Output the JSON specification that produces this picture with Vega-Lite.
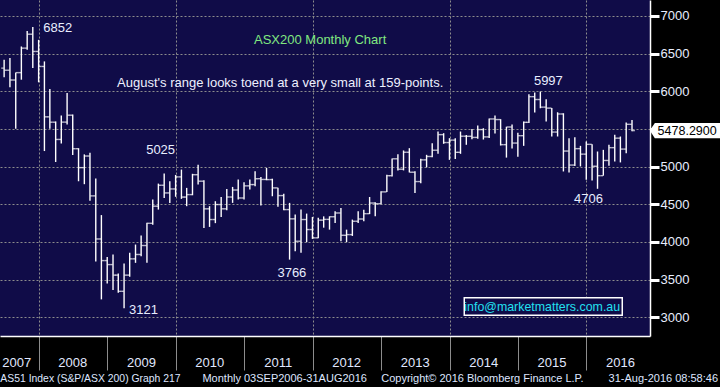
{
"$schema": "https://vega.github.io/schema/vega-lite/v6.json",
"width": 650, "height": 336,
"autosize": {"type": "none"},
"padding": {"left": 0, "top": 0, "right": 70, "bottom": 51},
"background": "#000000",
"config": {"view": {"fill": "#100c48", "stroke": null}, "font": "Liberation Sans", "text": {"font": "Liberation Sans"}},
"data": {"values": [
{"date":"2007-06-30","open":6308,"high":6419,"low":6185,"close":6280},
{"date":"2007-07-31","open":6280,"high":6441,"low":6053,"close":6150},
{"date":"2007-08-31","open":6150,"high":6251,"low":5502,"close":6248},
{"date":"2007-09-30","open":6248,"high":6595,"low":6154,"close":6573},
{"date":"2007-10-31","open":6573,"high":6802,"low":6551,"close":6758},
{"date":"2007-11-30","open":6758,"high":6852,"low":6308,"close":6529},
{"date":"2007-12-31","open":6529,"high":6683,"low":6119,"close":6330},
{"date":"2008-01-31","open":6330,"high":6397,"low":5207,"close":5661},
{"date":"2008-02-29","open":5661,"high":6031,"low":5502,"close":5590},
{"date":"2008-03-31","open":5590,"high":5600,"low":5062,"close":5361},
{"date":"2008-04-30","open":5361,"high":5679,"low":5308,"close":5591},
{"date":"2008-05-31","open":5591,"high":5978,"low":5560,"close":5683},
{"date":"2008-06-30","open":5683,"high":5692,"low":5154,"close":5238},
{"date":"2008-07-31","open":5238,"high":5245,"low":4806,"close":4987},
{"date":"2008-08-31","open":4987,"high":5163,"low":4767,"close":5141},
{"date":"2008-09-30","open":5141,"high":5185,"low":4546,"close":4612},
{"date":"2008-10-31","open":4612,"high":4842,"low":3740,"close":4040},
{"date":"2008-11-30","open":4040,"high":4357,"low":3238,"close":3753},
{"date":"2008-12-31","open":3753,"high":3800,"low":3450,"close":3700},
{"date":"2009-01-31","open":3700,"high":3834,"low":3361,"close":3560},
{"date":"2009-02-28","open":3560,"high":3582,"low":3325,"close":3345},
{"date":"2009-03-31","open":3345,"high":3714,"low":3121,"close":3560},
{"date":"2009-04-30","open":3560,"high":3856,"low":3540,"close":3776},
{"date":"2009-05-31","open":3776,"high":3966,"low":3723,"close":3834},
{"date":"2009-06-30","open":3834,"high":4086,"low":3812,"close":3953},
{"date":"2009-07-31","open":3953,"high":4254,"low":3723,"close":4248},
{"date":"2009-08-31","open":4248,"high":4563,"low":4230,"close":4475},
{"date":"2009-09-30","open":4475,"high":4775,"low":4430,"close":4753},
{"date":"2009-10-31","open":4753,"high":4908,"low":4585,"close":4651},
{"date":"2009-11-30","open":4651,"high":4806,"low":4519,"close":4704},
{"date":"2009-12-31","open":4704,"high":4890,"low":4600,"close":4864},
{"date":"2010-01-31","open":4864,"high":4961,"low":4572,"close":4596},
{"date":"2010-02-28","open":4596,"high":4718,"low":4475,"close":4629},
{"date":"2010-03-31","open":4629,"high":4905,"low":4620,"close":4893},
{"date":"2010-04-30","open":4893,"high":5025,"low":4762,"close":4807},
{"date":"2010-05-31","open":4807,"high":4820,"low":4187,"close":4440},
{"date":"2010-06-30","open":4440,"high":4475,"low":4200,"close":4298},
{"date":"2010-07-31","open":4298,"high":4541,"low":4250,"close":4497},
{"date":"2010-08-31","open":4497,"high":4598,"low":4333,"close":4440},
{"date":"2010-09-30","open":4440,"high":4704,"low":4422,"close":4597},
{"date":"2010-10-31","open":4597,"high":4731,"low":4519,"close":4690},
{"date":"2010-11-30","open":4690,"high":4828,"low":4563,"close":4584},
{"date":"2010-12-31","open":4584,"high":4793,"low":4563,"close":4745},
{"date":"2011-01-31","open":4745,"high":4828,"low":4696,"close":4762},
{"date":"2011-02-28","open":4762,"high":4939,"low":4740,"close":4840},
{"date":"2011-03-31","open":4840,"high":4863,"low":4483,"close":4830},
{"date":"2011-04-30","open":4830,"high":4983,"low":4819,"close":4828},
{"date":"2011-05-31","open":4828,"high":4840,"low":4607,"close":4718},
{"date":"2011-06-30","open":4718,"high":4720,"low":4466,"close":4616},
{"date":"2011-07-31","open":4616,"high":4640,"low":4422,"close":4430},
{"date":"2011-08-31","open":4430,"high":4519,"low":3766,"close":4307},
{"date":"2011-09-30","open":4307,"high":4364,"low":3878,"close":4010},
{"date":"2011-10-31","open":4010,"high":4430,"low":3856,"close":4298},
{"date":"2011-11-30","open":4298,"high":4377,"low":3997,"close":4165},
{"date":"2011-12-31","open":4165,"high":4333,"low":4041,"close":4055},
{"date":"2012-01-31","open":4055,"high":4320,"low":4050,"close":4290},
{"date":"2012-02-29","open":4290,"high":4340,"low":4190,"close":4300},
{"date":"2012-03-31","open":4300,"high":4341,"low":4164,"close":4335},
{"date":"2012-04-30","open":4335,"high":4407,"low":4252,"close":4385},
{"date":"2012-05-31","open":4385,"high":4451,"low":4010,"close":4089},
{"date":"2012-06-30","open":4089,"high":4164,"low":3997,"close":4098},
{"date":"2012-07-31","open":4098,"high":4297,"low":4080,"close":4275},
{"date":"2012-08-31","open":4275,"high":4407,"low":4252,"close":4305},
{"date":"2012-09-30","open":4305,"high":4429,"low":4275,"close":4376},
{"date":"2012-10-31","open":4376,"high":4597,"low":4370,"close":4517},
{"date":"2012-11-30","open":4517,"high":4526,"low":4341,"close":4508},
{"date":"2012-12-31","open":4508,"high":4672,"low":4500,"close":4665},
{"date":"2013-01-31","open":4665,"high":4892,"low":4663,"close":4880},
{"date":"2013-02-28","open":4880,"high":5109,"low":4870,"close":5104},
{"date":"2013-03-31","open":5104,"high":5166,"low":4950,"close":4966},
{"date":"2013-04-30","open":4966,"high":5215,"low":4950,"close":5191},
{"date":"2013-05-31","open":5191,"high":5245,"low":4923,"close":4926},
{"date":"2013-06-30","open":4926,"high":4940,"low":4650,"close":4802},
{"date":"2013-07-31","open":4802,"high":5104,"low":4780,"close":5090},
{"date":"2013-08-31","open":5090,"high":5157,"low":4990,"close":5135},
{"date":"2013-09-30","open":5135,"high":5312,"low":5126,"close":5218},
{"date":"2013-10-31","open":5218,"high":5466,"low":5170,"close":5425},
{"date":"2013-11-30","open":5425,"high":5444,"low":5303,"close":5320},
{"date":"2013-12-31","open":5320,"high":5378,"low":5090,"close":5352},
{"date":"2014-01-31","open":5352,"high":5378,"low":5100,"close":5190},
{"date":"2014-02-28","open":5190,"high":5466,"low":5170,"close":5404},
{"date":"2014-03-31","open":5404,"high":5420,"low":5290,"close":5403},
{"date":"2014-04-30","open":5403,"high":5500,"low":5365,"close":5388},
{"date":"2014-05-31","open":5388,"high":5545,"low":5370,"close":5492},
{"date":"2014-06-30","open":5492,"high":5510,"low":5360,"close":5395},
{"date":"2014-07-31","open":5395,"high":5640,"low":5380,"close":5633},
{"date":"2014-08-31","open":5633,"high":5680,"low":5440,"close":5625},
{"date":"2014-09-30","open":5625,"high":5630,"low":5280,"close":5292},
{"date":"2014-10-31","open":5292,"high":5530,"low":5120,"close":5526},
{"date":"2014-11-30","open":5526,"high":5560,"low":5240,"close":5313},
{"date":"2014-12-31","open":5313,"high":5450,"low":5130,"close":5411},
{"date":"2015-01-31","open":5411,"high":5600,"low":5276,"close":5588},
{"date":"2015-02-28","open":5588,"high":5960,"low":5580,"close":5929},
{"date":"2015-03-31","open":5929,"high":5985,"low":5720,"close":5891},
{"date":"2015-04-30","open":5891,"high":5997,"low":5775,"close":5790},
{"date":"2015-05-31","open":5790,"high":5894,"low":5598,"close":5777},
{"date":"2015-06-30","open":5777,"high":5780,"low":5400,"close":5459},
{"date":"2015-07-31","open":5459,"high":5722,"low":5400,"close":5699},
{"date":"2015-08-31","open":5699,"high":5709,"low":4936,"close":5207},
{"date":"2015-09-30","open":5207,"high":5378,"low":4923,"close":5021},
{"date":"2015-10-31","open":5021,"high":5391,"low":5010,"close":5239},
{"date":"2015-11-30","open":5239,"high":5276,"low":5003,"close":5166},
{"date":"2015-12-31","open":5166,"high":5334,"low":4826,"close":5296},
{"date":"2016-01-31","open":5296,"high":5296,"low":4817,"close":5005},
{"date":"2016-02-29","open":5005,"high":5201,"low":4706,"close":4880},
{"date":"2016-03-31","open":4880,"high":5223,"low":4880,"close":5082},
{"date":"2016-04-30","open":5082,"high":5290,"low":5012,"close":5252},
{"date":"2016-05-31","open":5252,"high":5422,"low":5069,"close":5378},
{"date":"2016-06-30","open":5378,"high":5400,"low":5056,"close":5233},
{"date":"2016-07-31","open":5233,"high":5585,"low":5179,"close":5562},
{"date":"2016-08-31","open":5562,"high":5620,"low":5470,"close":5478.29}
]},
"layer": [
{
 "mark": {"type": "rule", "color": "#ffffff", "strokeWidth": 1.4},
 "encoding": {
  "x": {"field": "date", "type": "temporal",
   "scale": {"domain": [{"year": 2007, "month": 6, "date": 8}, {"year": 2016, "month": 12, "date": 5}]},
   "axis": {"title": null, "format": "%Y",
    "values": [{"year":2007,"month":6,"date":9},{"year":2008,"month":1,"date":1},{"year":2009,"month":1,"date":1},{"year":2010,"month":1,"date":1},{"year":2011,"month":1,"date":1},{"year":2012,"month":1,"date":1},{"year":2013,"month":1,"date":1},{"year":2014,"month":1,"date":1},{"year":2015,"month":1,"date":1},{"year":2016,"month":1,"date":1}],
    "labelFlush": false, "labelOverlap": false,
    "tickSize": 34, "tickColor": "#8c8c8c", "tickWidth": 1,
    "tickOpacity": {"condition": {"test": "year(datum.value) == 2007", "value": 0}, "value": 1},
    "domainColor": "#ffffff", "domainWidth": 1.5,
    "labelColor": "#e0e8ff", "labelFontSize": 13, "labelFont": "Liberation Sans",
    "labelBaseline": "middle", "labelPadding": -8,
    "labelOffset": {"condition": {"test": "year(datum.value) == 2007", "value": 16}, "value": 33.5},
    "grid": true, "gridColor": "#8c8c8c", "gridDash": [2, 2], "gridWidth": 1,
    "gridOpacity": {"condition": {"test": "year(datum.value) % 2 == 1", "value": 0}, "value": 1}
   }},
  "y": {"field": "low", "type": "quantitative",
   "scale": {"domain": [2752, 7212], "nice": false, "zero": false},
   "axis": {"title": null, "orient": "right",
    "values": [3000,3250,3500,3750,4000,4250,4500,4750,5000,5250,5500,5750,6000,6250,6500,6750,7000],
    "labelExpr": "datum.value % 500 == 0 && datum.value != 5500 ? format(datum.value, 'd') : ''",
    "labelOverlap": false,
    "tickColor": "#ffffff",
    "tickSize": {"condition": {"test": "datum.value % 500 == 0", "value": 9}, "value": 4},
    "tickWidth": {"condition": {"test": "datum.value % 500 == 0", "value": 3}, "value": 1},
    "domainColor": "#ffffff", "domainWidth": 1.5,
    "labelColor": "#e8eeff", "labelFontSize": 13, "labelFont": "Liberation Sans",
    "labelBaseline": "middle", "labelPadding": 1,
    "grid": true, "gridColor": "#8c8c8c", "gridDash": [2, 2], "gridWidth": 1,
    "gridOpacity": {"condition": {"test": "datum.value % 500 == 0", "value": 1}, "value": 0}
   }},
  "y2": {"field": "high"}
 }
},
{
 "mark": {"type": "tick", "orient": "horizontal", "color": "#ffffff", "size": 2.6, "thickness": 1.4, "xOffset": -1.6},
 "encoding": {
  "x": {"field": "date", "type": "temporal"},
  "y": {"field": "open", "type": "quantitative"}
 }
},
{
 "mark": {"type": "tick", "orient": "horizontal", "color": "#ffffff", "size": 2.6, "thickness": 1.4, "xOffset": 1.6},
 "encoding": {
  "x": {"field": "date", "type": "temporal"},
  "y": {"field": "close", "type": "quantitative"}
 }
},
{
 "transform": [{"filter": "year(datum.date) == 2016 && month(datum.date) == 7"}],
 "mark": {"type": "point", "shape": "M-1,0L-0.86,-0.21L1,-0.21L1,0.21L-0.86,0.21Z", "size": 5184, "filled": true, "fill": "#ffffff", "strokeWidth": 0, "opacity": 1, "xOffset": 53.8},
 "encoding": {
  "x": {"field": "date", "type": "temporal"},
  "y": {"field": "close", "type": "quantitative"}
 }
},
{
 "transform": [{"filter": "year(datum.date) == 2016 && month(datum.date) == 7"}],
 "mark": {"type": "text", "align": "left", "baseline": "middle", "dx": 25.6, "color": "#000000", "fontSize": 12.5},
 "encoding": {
  "x": {"field": "date", "type": "temporal"},
  "y": {"field": "close", "type": "quantitative"},
  "text": {"field": "close", "format": ".4f"}
 }
},
{
 "transform": [{"filter": "year(datum.date) == 2007 && month(datum.date) == 10"}],
 "mark": {"type": "text", "align": "center", "baseline": "middle", "dx": 25, "dy": 1, "color": "#e8eeff", "fontSize": 13},
 "encoding": {"x": {"field": "date", "type": "temporal"}, "y": {"field": "high", "type": "quantitative"}, "text": {"field": "high", "format": "d"}}
},
{
 "transform": [{"filter": "year(datum.date) == 2010 && month(datum.date) == 3"}],
 "mark": {"type": "text", "align": "center", "baseline": "middle", "dx": -37.5, "dy": -15, "color": "#e8eeff", "fontSize": 13},
 "encoding": {"x": {"field": "date", "type": "temporal"}, "y": {"field": "high", "type": "quantitative"}, "text": {"field": "high", "format": "d"}}
},
{
 "transform": [{"filter": "year(datum.date) == 2009 && month(datum.date) == 2"}],
 "mark": {"type": "text", "align": "center", "baseline": "middle", "dx": 19.5, "dy": 2, "color": "#e8eeff", "fontSize": 13},
 "encoding": {"x": {"field": "date", "type": "temporal"}, "y": {"field": "low", "type": "quantitative"}, "text": {"field": "low", "format": "d"}}
},
{
 "transform": [{"filter": "year(datum.date) == 2011 && month(datum.date) == 7"}],
 "mark": {"type": "text", "align": "center", "baseline": "middle", "dx": 2.3, "dy": 13, "color": "#e8eeff", "fontSize": 13},
 "encoding": {"x": {"field": "date", "type": "temporal"}, "y": {"field": "low", "type": "quantitative"}, "text": {"field": "low", "format": "d"}}
},
{
 "transform": [{"filter": "year(datum.date) == 2015 && month(datum.date) == 3"}],
 "mark": {"type": "text", "align": "center", "baseline": "middle", "dx": 8, "dy": -10.5, "color": "#e8eeff", "fontSize": 13},
 "encoding": {"x": {"field": "date", "type": "temporal"}, "y": {"field": "high", "type": "quantitative"}, "text": {"field": "high", "format": "d"}}
},
{
 "transform": [{"filter": "year(datum.date) == 2016 && month(datum.date) == 1"}],
 "mark": {"type": "text", "align": "center", "baseline": "middle", "dx": -9, "dy": 10.5, "color": "#e8eeff", "fontSize": 13},
 "encoding": {"x": {"field": "date", "type": "temporal"}, "y": {"field": "low", "type": "quantitative"}, "text": {"field": "low", "format": "d"}}
},
{
 "data": {"values": [{}]},
 "mark": {"type": "text", "text": "ASX200 Monthly Chart", "align": "center", "baseline": "middle", "color": "#80e880", "fontSize": 13},
 "encoding": {"x": {"datum": {"year": 2012, "month": 2, "date": 10}, "type": "temporal"}, "y": {"datum": 6680, "type": "quantitative"}}
},
{
 "data": {"values": [{}]},
 "mark": {"type": "text", "text": "August's range looks toend at a very small at 159-points.", "align": "center", "baseline": "middle", "color": "#eef0ff", "fontSize": 13},
 "encoding": {"x": {"datum": {"year": 2011, "month": 7, "date": 12}, "type": "temporal"}, "y": {"datum": 6110, "type": "quantitative"}}
},
{
 "data": {"values": [{}]},
 "mark": {"type": "rect", "fill": "#100c48", "stroke": "#ffffff", "strokeWidth": 1.5},
 "encoding": {"x": {"datum": {"year": 2014, "month": 3, "date": 20}, "type": "temporal"}, "x2": {"datum": {"year": 2016, "month": 7, "date": 10}}, "y": {"datum": 3260, "type": "quantitative"}, "y2": {"datum": 3027}}
},
{
 "data": {"values": [{}]},
 "mark": {"type": "text", "text": "info@marketmatters.com.au", "align": "center", "baseline": "middle", "color": "#22e0f0", "fontSize": 12.4},
 "encoding": {"x": {"datum": {"year": 2015, "month": 5, "date": 10}, "type": "temporal"}, "y": {"datum": 3143, "type": "quantitative"}}
},
{
 "data": {"values": [{}]},
 "mark": {"type": "text", "text": "AS51 Index (S&P/ASX 200) Graph 217", "align": "left", "baseline": "middle", "color": "#dfe6ff", "fontSize": 10.4},
 "encoding": {"x": {"datum": {"year": 2007, "month": 6, "date": 10}, "type": "temporal"}, "y": {"datum": 2181, "type": "quantitative"}}
},
{
 "data": {"values": [{}]},
 "mark": {"type": "text", "text": "Monthly 03SEP2006-31AUG2016", "align": "left", "baseline": "middle", "color": "#dfe6ff", "fontSize": 11},
 "encoding": {"x": {"datum": {"year": 2010, "month": 5, "date": 23}, "type": "temporal"}, "y": {"datum": 2181, "type": "quantitative"}}
},
{
 "data": {"values": [{}]},
 "mark": {"type": "text", "text": "Copyright© 2016 Bloomberg Finance L.P.", "align": "left", "baseline": "middle", "color": "#dfe6ff", "fontSize": 11},
 "encoding": {"x": {"datum": {"year": 2013, "month": 1, "date": 1}, "type": "temporal"}, "y": {"datum": 2181, "type": "quantitative"}}
},
{
 "data": {"values": [{}]},
 "mark": {"type": "text", "text": "31-Aug-2016 08:58:46", "align": "right", "baseline": "middle", "color": "#dfe6ff", "fontSize": 11},
 "encoding": {"x": {"datum": {"year": 2017, "month": 12, "date": 3}, "type": "temporal"}, "y": {"datum": 2181, "type": "quantitative"}}
}
]
}
